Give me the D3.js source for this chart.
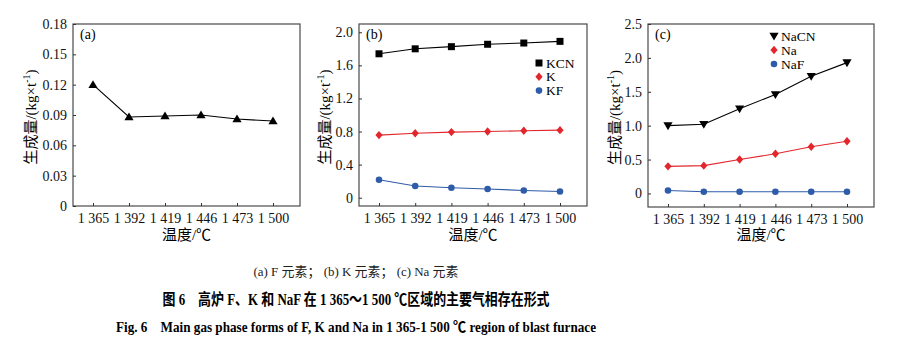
<!DOCTYPE html>
<html><head><meta charset="utf-8">
<script src="https://cdn.jsdelivr.net/npm/d3@7"></script>
<style>body{margin:0;background:#fff}svg{display:block}text{font-family:"Liberation Serif","Times New Roman","Noto Sans CJK SC",serif}</style>
</head><body>
<svg id="c" width="915" height="350"></svg>
<script>
const temps = ["1 365","1 392","1 419","1 446","1 473","1 500"];
const fValues = [0.120, 0.088, 0.089, 0.090, 0.086, 0.084];
const kcnValues = [1.74, 1.80, 1.826, 1.855, 1.87, 1.89];
const kValues = [0.757, 0.78, 0.793, 0.80, 0.81, 0.817];
const kfValues = [0.217, 0.141, 0.12, 0.105, 0.088, 0.076];
const nacnValues = [1.00, 1.02, 1.25, 1.46, 1.73, 1.93];
const naValues = [0.40, 0.41, 0.50, 0.585, 0.69, 0.77];
const nafValues = [0.044, 0.025, 0.025, 0.025, 0.025, 0.025];
const yTicksA = [0, 0.03, 0.06, 0.09, 0.12, 0.15, 0.18];
const yTicksB = [0, 0.4, 0.8, 1.2, 1.6, 2.0];
const yTicksC = [0, 0.5, 1.0, 1.5, 2.0, 2.5];
const yLabel = "生成量/(kg×t";
const xLabel = "温度/℃";
const caption1 = "(a) F 元素；  (b) K 元素；  (c) Na 元素";
const caption2 = "图 6　高炉 F、K 和 NaF 在 1 365～1 500 ℃区域的主要气相存在形式";
const caption3 = "Fig. 6　Main gas phase forms of F, K and Na in 1 365-1 500 ℃  region of blast furnace";

const BLACK = "#000", RED = "#e3262b", BLUE = "#2f5ca8";
const svg = d3.select("#c");
const SERIF = '"Liberation Serif","Times New Roman",serif';

function panel(o) {
  const g = svg.append("g");
  const x = d3.scalePoint().domain(temps).range([o.left + 20, o.right - 27]);
  const y = d3.scaleLinear().domain(o.domain).range([o.bottom, o.top]);
  g.append("rect").attr("x", o.left).attr("y", o.top).attr("width", o.right - o.left).attr("height", o.bottom - o.top)
    .attr("fill", "none").attr("stroke", "#4a4a4a").attr("stroke-width", 1.2);
  const ya = g.append("g").attr("transform", `translate(${o.left},0)`)
    .call(d3.axisLeft(y).tickValues(o.ticks).tickSizeInner(-3).tickSizeOuter(0).tickPadding(6).tickFormat(o.fmt));
  const xa = g.append("g").attr("transform", `translate(0,${o.bottom})`)
    .call(d3.axisBottom(x).tickSizeInner(-3).tickSizeOuter(0).tickPadding(7));
  [ya, xa].forEach(a => {
    a.attr("font-family", SERIF);
    a.select(".domain").remove();
    a.selectAll("line").attr("stroke", "#333");
    a.selectAll("text").attr("font-size", 14).attr("fill", "#111").style("font-family", SERIF);
  });
  const cx = (o.left + o.right) / 2;
  g.append("text").attr("x", cx).attr("y", 240).attr("text-anchor", "middle").attr("font-size", 15).text(xLabel);
  const yl = g.append("text").attr("transform", `translate(${o.ylx},${(o.top + o.bottom) / 2 + 2}) rotate(-90)`)
    .attr("text-anchor", "middle").attr("font-size", 15);
  yl.append("tspan").text(yLabel);
  yl.append("tspan").attr("font-size", 10).attr("dy", -6).text("-1");
  yl.append("tspan").attr("dy", 6).text(")");
  g.append("text").attr("x", o.left + 7).attr("y", o.top + 15).attr("font-size", 14).text(o.tag);
  o.series.forEach(s => {
    g.append("path").datum(s.values)
      .attr("d", d3.line().x((d, i) => x(temps[i])).y(d => y(d)))
      .attr("fill", "none").attr("stroke", s.color).attr("stroke-width", 1.1);
    g.selectAll(null).data(s.values).enter().append("path")
      .attr("transform", (d, i) => `translate(${x(temps[i])},${y(d)})`)
      .attr("d", marker(s.shape)).attr("fill", s.color);
  });
  if (o.legend) {
    o.series.forEach((s, i) => {
      const ly = o.legend.y + i * o.legend.dy;
      g.append("path").attr("transform", `translate(${o.legend.x},${ly})`).attr("d", marker(s.shape)).attr("fill", s.color);
      g.append("text").attr("x", o.legend.x + 7).attr("y", ly + 4.5).attr("font-size", 13.5).text(s.name);
    });
  }
}
function marker(shape) {
  if (shape === "tri") return "M0,-4.5L4.6,3.3L-4.6,3.3Z";
  if (shape === "itri") return "M0,4.5L4.6,-3.3L-4.6,-3.3Z";
  if (shape === "sq") return "M-3.5,-3.5H3.5V3.5H-3.5Z";
  if (shape === "dia") return "M0,-4.2L3.6,0L0,4.2L-3.6,0Z";
  return d3.symbol(d3.symbolCircle, 34)();
}

panel({left: 73, right: 300, top: 24, bottom: 206, domain: [0, 0.18], ticks: yTicksA,
  fmt: d => d === 0 ? "0" : d3.format(".2f")(d), ylx: 36, tag: "(a)",
  series: [{name: "F", values: fValues, color: BLACK, shape: "tri"}]});
panel({left: 359, right: 587, top: 24, bottom: 206, domain: [-0.1, 2.1], ticks: yTicksB,
  fmt: d => d === 0 ? "0" : d3.format(".1f")(d), ylx: 330, tag: "(b)",
  legend: {x: 539, y: 63, dy: 13.8},
  series: [{name: "KCN", values: kcnValues, color: BLACK, shape: "sq"},
           {name: "K", values: kValues, color: RED, shape: "dia"},
           {name: "KF", values: kfValues, color: BLUE, shape: "circ"}]});
panel({left: 648, right: 874, top: 24, bottom: 207, domain: [-0.2, 2.5], ticks: yTicksC,
  fmt: d => d === 0 ? "0" : d3.format(".1f")(d), ylx: 620, tag: "(c)",
  legend: {x: 774, y: 36, dy: 14},
  series: [{name: "NaCN", values: nacnValues, color: BLACK, shape: "itri"},
           {name: "Na", values: naValues, color: RED, shape: "dia"},
           {name: "NaF", values: nafValues, color: BLUE, shape: "circ"}]});

svg.append("text").attr("x", 356).attr("y", 276).attr("text-anchor", "middle").attr("font-size", 13)
  .attr("textLength", 205).attr("lengthAdjust", "spacingAndGlyphs").attr("fill", "#222").text(caption1);
svg.append("text").attr("x", 356).attr("y", 305).attr("text-anchor", "middle").attr("font-size", 16).attr("font-weight", "bold")
  .attr("textLength", 387).attr("lengthAdjust", "spacingAndGlyphs").text(caption2);
svg.append("text").attr("x", 356).attr("y", 332).attr("text-anchor", "middle").attr("font-size", 15).attr("font-weight", "bold")
  .attr("textLength", 480).attr("lengthAdjust", "spacingAndGlyphs").text(caption3);
</script>
</body></html>
